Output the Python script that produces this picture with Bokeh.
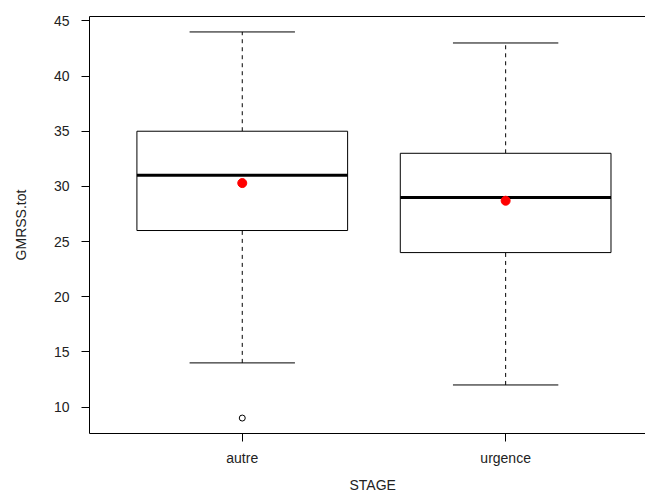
from bokeh.plotting import figure
from bokeh.models import Range1d, FixedTicker, LinearAxis, Title
from bokeh.embed import file_html
from bokeh.resources import INLINE

# Data
categories = ["autre", "urgence"]
whisker_low = [14, 12]
q1 = [26, 24]
median = [31, 29]
q3 = [35, 33]
whisker_high = [44, 43]
means = [30.3, 28.7]
outlier_cat = ["autre"]
outlier_val = [9]
y_ticks = [10, 15, 20, 25, 30, 35, 40, 45]

pos = {c: i + 1 for i, c in enumerate(categories)}
xs = [pos[c] for c in categories]
FONT = "Liberation Sans"

p = figure(width=645, height=498, output_backend="svg", toolbar_location=None,
           x_range=Range1d(0.42, 2.531), y_range=Range1d(7.6, 45.4),
           min_border_left=89, min_border_top=16, min_border_bottom=64, min_border_right=0)
p.xgrid.visible = False
p.ygrid.visible = False
p.outline_line_color = None
p.background_fill_color = "white"
p.border_fill_color = "white"

bw = 0.4
cw = 0.2
# whiskers (dashed)
p.segment(x0=xs, y0=q3, x1=xs, y1=whisker_high, line_color="black", line_width=1, line_dash="4 4")
p.segment(x0=xs, y0=whisker_low, x1=xs, y1=q1, line_color="black", line_width=1, line_dash="4 4")
# caps
p.segment(x0=[x - cw for x in xs], y0=whisker_high, x1=[x + cw for x in xs], y1=whisker_high,
          line_color="black", line_width=1)
p.segment(x0=[x - cw for x in xs], y0=whisker_low, x1=[x + cw for x in xs], y1=whisker_low,
          line_color="black", line_width=1)
# boxes
p.quad(left=[x - bw for x in xs], right=[x + bw for x in xs], bottom=q1, top=q3,
       fill_color="white", line_color="black", line_width=1)
# medians
p.segment(x0=[x - bw for x in xs], y0=median, x1=[x + bw for x in xs], y1=median,
          line_color="black", line_width=3)
# outliers
p.scatter(x=[pos[c] for c in outlier_cat], y=outlier_val, marker="circle", size=6,
          fill_color="white", line_color="black", line_width=1)
# means
p.scatter(x=xs, y=means, marker="circle", size=9, fill_color="red", line_color="red")

bottom = p.below[0]
left = p.left[0]

# top border as a bare axis (no ticks, no labels)
top = LinearAxis(ticker=FixedTicker(ticks=[]), major_tick_line_color=None,
                 minor_tick_line_color=None, axis_line_color="black")
p.add_layout(top, "above")

bottom.ticker = FixedTicker(ticks=xs)
bottom.major_label_overrides = {x: c for x, c in zip(xs, categories)}
left.ticker = FixedTicker(ticks=y_ticks)
for ax in (bottom, left):
    ax.axis_line_color = "black"
    ax.major_tick_line_color = "black"
    ax.major_tick_out = 8
    ax.major_tick_in = 0
    ax.minor_tick_line_color = None
    ax.major_label_text_font = FONT
    ax.major_label_text_font_size = "14px"
    ax.major_label_text_color = "#222222"
bottom.major_label_standoff = 8
left.major_label_standoff = 12
left.major_label_orientation = "horizontal"
left.axis_label = "GMRSS.tot"
left.axis_label_text_font = FONT
left.axis_label_text_font_size = "14px"
left.axis_label_text_font_style = "normal"
left.axis_label_text_color = "#222222"
left.axis_label_standoff = 22

p.add_layout(Title(text="STAGE", align="left", offset=260, standoff=12, text_font=FONT,
                   text_font_size="14px", text_font_style="normal", text_color="#222222"),
             "below")

open("out.html", "w").write(file_html(p, INLINE))
